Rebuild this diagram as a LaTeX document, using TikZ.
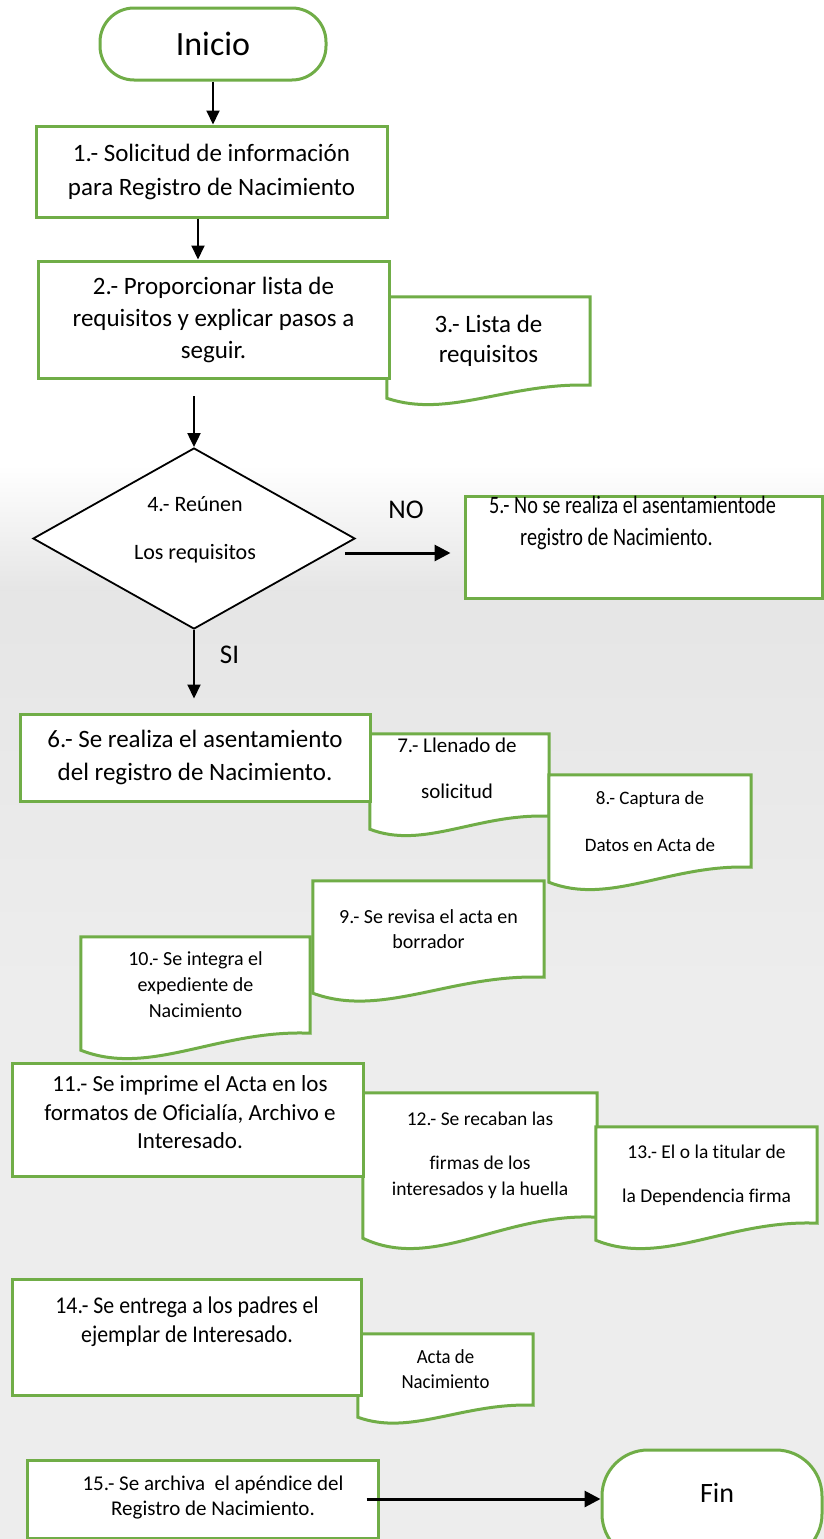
\documentclass[tikz,border=0pt]{standalone}
\usepackage{fontspec}
\setmainfont{Carlito}[Ligatures={NoCommon}]
\newfontfamily\condA{Carlito}[FakeStretch=0.81,Ligatures={NoCommon}]
\newfontfamily\condB{Carlito}[FakeStretch=0.91,Ligatures={NoCommon}]
\newfontfamily\condC{Carlito}[FakeStretch=0.94,Ligatures={NoCommon}]
\usetikzlibrary{shapes.geometric,arrows.meta,calc}
\definecolor{gr}{RGB}{112,173,71}
\pgfdeclarelayer{bg}
\pgfdeclarelayer{docs}
\pgfsetlayers{bg,docs,main}
\tikzset{
  gline/.style={draw=gr, line width=3pt},
  box/.style={gline, rectangle, fill=white, inner sep=0pt, align=center},
  docnode/.style={rectangle, inner sep=0pt, align=center},
  terminal/.style={gline, rectangle, rounded corners=#1, fill=white, inner sep=0pt},
  txt/.style={inner sep=0pt, align=center},
  arr/.style={draw=black, line width=2pt, -{Triangle[width=13pt,length=14pt]}},
  arrthick/.style={draw=black, line width=3pt, -{Triangle[width=16pt,length=16pt]}},
  fs/.style 2 args={font=\fontsize{#1}{#2}\selectfont},
}
\newcommand\docshape[2]{%
  \begin{pgfonlayer}{docs}
  \draw[gline, fill=white] ($(#1.south west)+(0,#2)$)
    .. controls ($(#1.south west)!0.3!(#1.south east)+(0,2.6*#2)$)
    and ($(#1.south west)!0.6!(#1.south east)+(0,-0.23*#2)$) .. (#1.south east)
    -- (#1.north east) -- (#1.north west) -- cycle;
  \end{pgfonlayer}}
\begin{document}
\begin{tikzpicture}[x=1pt,y=-1pt]
\useasboundingbox (0,0) rectangle (824,1539);
\begin{pgfonlayer}{bg}
  \fill[white] (0,0) rectangle (824,1539);
  \shade[top color=white, bottom color=black!10] (0,465) rectangle (824,590);
  \shade[top color=black!10, bottom color=black!7] (0,590) rectangle (824,1000);
  \fill[black!7] (0,1000) rectangle (824,1539);
\end{pgfonlayer}

% start
\node[terminal=34pt, minimum width=226pt, minimum height=72pt, fs={34}{40}] (ini) at (213,44) {Inicio};
% 1
\node[box, minimum width=351pt, minimum height=91pt, fs={25}{34}] (b1) at (211.5,171.5)
  {1.- Solicitud de información\\para Registro de Nacimiento};
% 2
\node[box, minimum width=351pt, minimum height=117pt, fs={25}{32}] (b2) at (213.5,319.5)
  {2.- Proporcionar lista de\\requisitos y explicar pasos a\\seguir.};
% 3
\node[docnode, minimum width=203pt, minimum height=88pt, fs={25}{30}] (d3) at (488.5,341)
  {3.- Lista de\\requisitos};
\docshape{d3}{13}
% 4
\node[draw=black, line width=1.8pt, fill=white, diamond, minimum width=322pt, minimum height=181pt, inner sep=0pt] (dia) at (194,538.5) {};
\node[txt, fs={22}{48}] (t4) at (195,530) {4.- Reúnen\\Los requisitos};
% 5
\node[box, minimum width=357pt, minimum height=102pt] (b5) at (643.5,547) {};
\node[txt, anchor=west, align=left, font={\condA\fontsize{25}{32}\selectfont}] (t5) at (489,523)
  {5.- No se realiza el asentamientode\\\hspace*{31pt}registro de Nacimiento.};
\node[txt, fs={27}{32}] (lno) at (406,510) {NO};
\node[txt, fs={27}{32}] (lsi) at (229.5,654.5) {SI};
% 6
\node[box, minimum width=350pt, minimum height=87pt, fs={25}{33}] (b6) at (195,757.5)
  {6.- Se realiza el asentamiento\\del registro de Nacimiento.};
% 7
\node[docnode, minimum width=179pt, minimum height=82pt] (d7) at (459.5,775) {};
\docshape{d7}{13}
\node[txt, fs={21}{46}] (t7) at (457,768) {7.- Llenado de\\solicitud};
% 8
\node[docnode, minimum width=202pt, minimum height=92pt, fs={19}{47}] (d8) at (650,821)
  {8.- Captura de\\Datos en Acta de};
\docshape{d8}{15}
% 9
\node[docnode, minimum width=231pt, minimum height=96pt, fs={20}{25}] (d9) at (428.5,929)
  {9.- Se revisa el acta en\\borrador};
\docshape{d9}{16}
% 10
\node[docnode, minimum width=229pt, minimum height=96pt, fs={20}{26}] (d10) at (195.5,985)
  {10.- Se integra el\\expediente de\\Nacimiento};
\docshape{d10}{17}
% 11
\node[box, minimum width=351pt, minimum height=113pt] (b11) at (187.5,1119.5) {};
\node[txt, fs={23}{28.5}] (t11) at (190,1112.5)
  {11.- Se imprime el Acta en los\\formatos de Oficialía, Archivo e\\Interesado.};
% 12
\node[docnode, minimum width=234pt, minimum height=124pt, fs={19.5}{26}] (d12) at (480,1155)
  {12.- Se recaban las\\[18pt]firmas de los\\interesados y la huella};
\docshape{d12}{21}
% 13
\node[docnode, minimum width=221pt, minimum height=96pt, fs={19.5}{44}] (d13) at (706.5,1175)
  {13.- El o la titular de\\la Dependencia firma};
\docshape{d13}{17}
% 14
\node[box, minimum width=349pt, minimum height=116pt] (b14) at (186.5,1337) {};
\node[txt, font={\condB\fontsize{24}{29}\selectfont}] (t14) at (187,1322)
  {14.- Se entrega a los padres el\\ejemplar de Interesado.};
% acta
\node[docnode, minimum width=175pt, minimum height=71pt, font={\condC\fontsize{20}{25}\selectfont}] (acta) at (445.5,1369.5)
  {Acta de\\Nacimiento};
\docshape{acta}{12}
% 15
\node[box, minimum width=351pt, minimum height=78pt] (b15) at (202.5,1499) {};
\node[txt, fs={21}{25}] (t15) at (213,1497.5)
  {15.- Se archiva\ \ el apéndice del\\Registro de Nacimiento.};
% end
\node[terminal=46pt, minimum width=220pt, minimum height=110pt] (fin) at (712,1505) {};
\node[txt, fs={28}{32}] (tfin) at (717,1493) {Fin};

% connectors
\draw[arr] (ini.south) -- (ini.south |- b1.north);
\draw[arr] ($(b1.south)+(-13.5,0)$) -- ($(b1.south |- b2.north)+(-13.5,0)$);
\draw[arr, shorten <=16.5pt] (b2.south -| dia.north) -- (dia.north);
\draw[arrthick] ($(dia.east)+(-11,14.5)$) -- ($(b5.west)+(-13,6)$);
\draw[arr] (dia.south) -- ($(dia.south |- b6.north)+(0,-14)$);
\draw[arrthick] ($(b15.east)+(-13,0)$) -- (b15.east -| fin.west);
\end{tikzpicture}
\end{document}
